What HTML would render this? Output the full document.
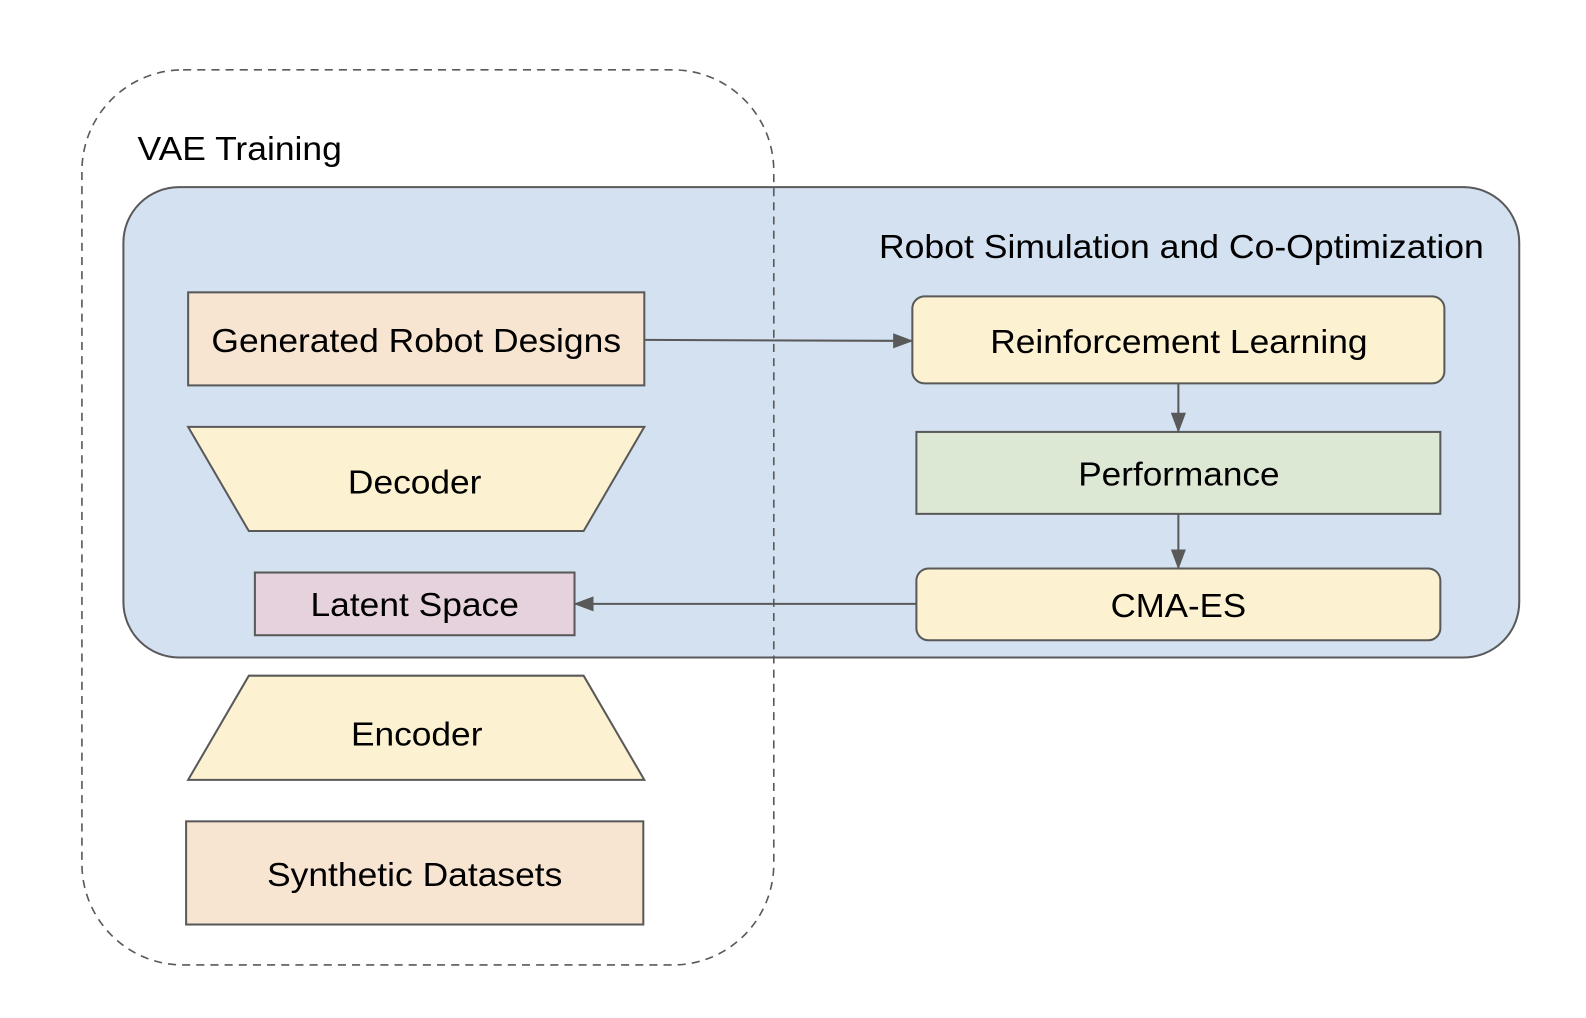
<!DOCTYPE html>
<html><head><meta charset="utf-8"><style>
html,body{margin:0;padding:0;background:#fff;width:1586px;height:1018px;overflow:hidden}
svg{display:block}
text{font-family:"Liberation Sans",Arial,sans-serif;font-size:33px;fill:#000}
</style></head><body>
<svg width="1586" height="1018" viewBox="0 0 1568 1006.4" xmlns="http://www.w3.org/2000/svg">
<defs>
<marker id="ah" markerWidth="20" markerHeight="15" refX="19" refY="7.5" orient="auto" markerUnits="userSpaceOnUse" viewBox="0 0 20 15">
<path d="M0,0 L20,7.5 L0,15 z" fill="#595959"/>
</marker>
</defs>
<rect x="0" y="0" width="1568" height="1007" fill="#fff"/>
<rect x="122" y="185" width="1380" height="465" rx="55" ry="55" fill="#d4e1f1" stroke="#595959" stroke-width="2"/>
<rect x="81" y="69" width="684" height="885" rx="100" ry="100" fill="none" stroke="#595959" stroke-width="1.6" stroke-dasharray="8,6"/>
<text x="136" y="158" textLength="202" lengthAdjust="spacingAndGlyphs">VAE Training</text>
<text x="869" y="255" textLength="598" lengthAdjust="spacingAndGlyphs">Robot Simulation and Co-Optimization</text>

<rect x="186" y="289" width="451" height="92" fill="#f8e5d1" stroke="#595959" stroke-width="2"/>
<text x="209" y="348" textLength="405" lengthAdjust="spacingAndGlyphs">Generated Robot Designs</text>

<polygon points="186,422 637,422 577,525 246,525" fill="#fcf1d0" stroke="#595959" stroke-width="2"/>
<text x="344" y="488" textLength="132" lengthAdjust="spacingAndGlyphs">Decoder</text>

<rect x="252" y="566" width="316" height="62" fill="#e6d2dc" stroke="#595959" stroke-width="2"/>
<text x="307" y="609" textLength="206" lengthAdjust="spacingAndGlyphs">Latent Space</text>

<polygon points="246,668 577,668 637,771 186,771" fill="#fcf1d0" stroke="#595959" stroke-width="2"/>
<text x="347" y="737" textLength="130" lengthAdjust="spacingAndGlyphs">Encoder</text>

<rect x="184" y="812" width="452" height="102" fill="#f8e5d1" stroke="#595959" stroke-width="2"/>
<text x="264" y="876" textLength="292" lengthAdjust="spacingAndGlyphs">Synthetic Datasets</text>

<rect x="902" y="293" width="526" height="86" rx="12" ry="12" fill="#fcf1d0" stroke="#595959" stroke-width="2"/>
<text x="979" y="349" textLength="373" lengthAdjust="spacingAndGlyphs">Reinforcement Learning</text>

<rect x="906" y="427" width="518" height="81" fill="#dde8d4" stroke="#595959" stroke-width="2"/>
<text x="1066" y="480" textLength="199" lengthAdjust="spacingAndGlyphs">Performance</text>

<rect x="906" y="562" width="518" height="71" rx="12" ry="12" fill="#fcf1d0" stroke="#595959" stroke-width="2"/>
<text x="1098" y="610" textLength="134" lengthAdjust="spacingAndGlyphs">CMA-ES</text>

<g stroke="#595959" stroke-width="2" fill="none">
<line x1="637" y1="336" x2="902" y2="337" marker-end="url(#ah)"/>
<line x1="1165" y1="379" x2="1165" y2="427" marker-end="url(#ah)"/>
<line x1="1165" y1="508" x2="1165" y2="562" marker-end="url(#ah)"/>
<line x1="906" y1="597" x2="568" y2="597" marker-end="url(#ah)"/>
</g>
</svg>
</body></html>
